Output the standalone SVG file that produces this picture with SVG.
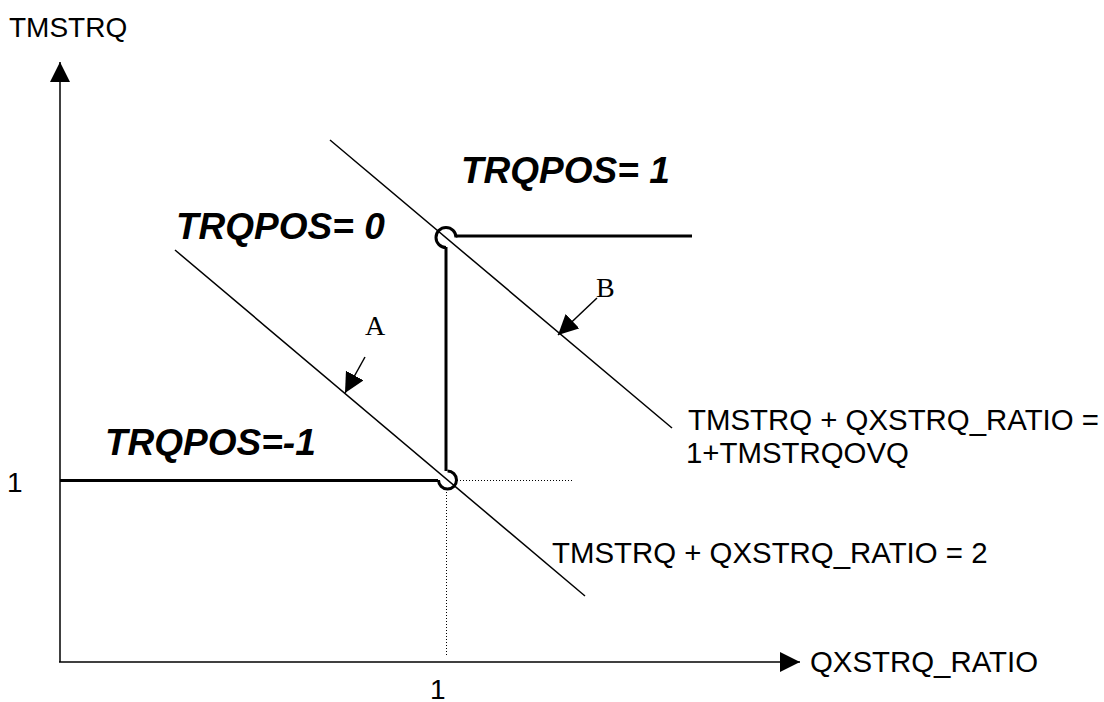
<svg xmlns="http://www.w3.org/2000/svg" width="1104" height="702" viewBox="0 0 1104 702">
<style>
.t{font-family:"Liberation Sans",Arial,sans-serif;font-size:28px;fill:#000}
.e{font-family:"Liberation Sans",Arial,sans-serif;font-size:29.4px;fill:#000}
.b{font-family:"Liberation Sans",Arial,sans-serif;font-size:37px;font-weight:bold;font-style:italic;fill:#000}
.s{font-family:"Liberation Serif","Times New Roman",serif;font-size:28px;fill:#000}
.thin{stroke:#000;stroke-width:1.5;fill:none}
.thick{stroke:#000;stroke-width:3;fill:none}
.dot{stroke:#000;stroke-width:1;stroke-dasharray:1 2;fill:none}
</style>
<defs>
<marker id="ah" markerWidth="20" markerHeight="20" refX="20" refY="10" orient="auto" markerUnits="userSpaceOnUse" viewBox="0 0 20 20">
<path d="M0,0 L20,10 L0,20 Z" fill="#000"/>
</marker>
</defs>
<rect width="1104" height="702" fill="#fff"/>
<g id="axes">
<line class="thin" x1="60" y1="662" x2="60" y2="62" marker-end="url(#ah)"/>
<line class="thin" x1="59" y1="662" x2="800" y2="662" marker-end="url(#ah)"/>
<text class="t" x="9" y="37">TMSTRQ</text>
<text class="e" x="810" y="672">QXSTRQ_RATIO</text>
<text class="t" x="7" y="492">1</text>
<text class="t" x="430" y="699">1</text>
</g>
<g id="lineA">
<line class="thin" x1="175" y1="250" x2="585" y2="596"/>
<text class="e" x="552" y="563">TMSTRQ + QXSTRQ_RATIO = 2</text>
</g>
<g id="lineB">
<line class="thin" x1="330" y1="140" x2="672" y2="428"/>
<text class="e" x="688" y="430">TMSTRQ + QXSTRQ_RATIO =</text>
<text class="e" x="686" y="463">1+TMSTRQOVQ</text>
</g>
<g id="labels">
<text class="b" x="176" y="239">TRQPOS= 0</text>
<text class="b" x="461" y="183">TRQPOS= 1</text>
<text class="b" x="105" y="455">TRQPOS=-1</text>
</g>
<g id="connectors">
<line class="thick" x1="60" y1="480.5" x2="438" y2="480.5"/>
<line class="thick" x1="446" y1="247" x2="446" y2="471"/>
<line class="thick" x1="456" y1="236" x2="692" y2="236"/>
<path class="thick" d="M456,237.5 A10,10 0 1 0 446,247.5" stroke-width="2.5"/>
<path class="thick" d="M447.5,471 A9,9 0 1 1 438.5,480" stroke-width="2.5"/>
<line class="dot" x1="457" y1="480.5" x2="573" y2="480.5"/>
<line class="dot" x1="446.5" y1="489" x2="446.5" y2="657"/>
</g>
<g id="pointerA">
<line class="thin" x1="365" y1="357" x2="345" y2="393" marker-end="url(#ah)"/>
<text class="s" x="365" y="335">A</text>
</g>
<g id="pointerB">
<line class="thin" x1="597" y1="298" x2="558" y2="335" marker-end="url(#ah)"/>
<text class="s" x="596" y="297">B</text>
</g>
</svg>
